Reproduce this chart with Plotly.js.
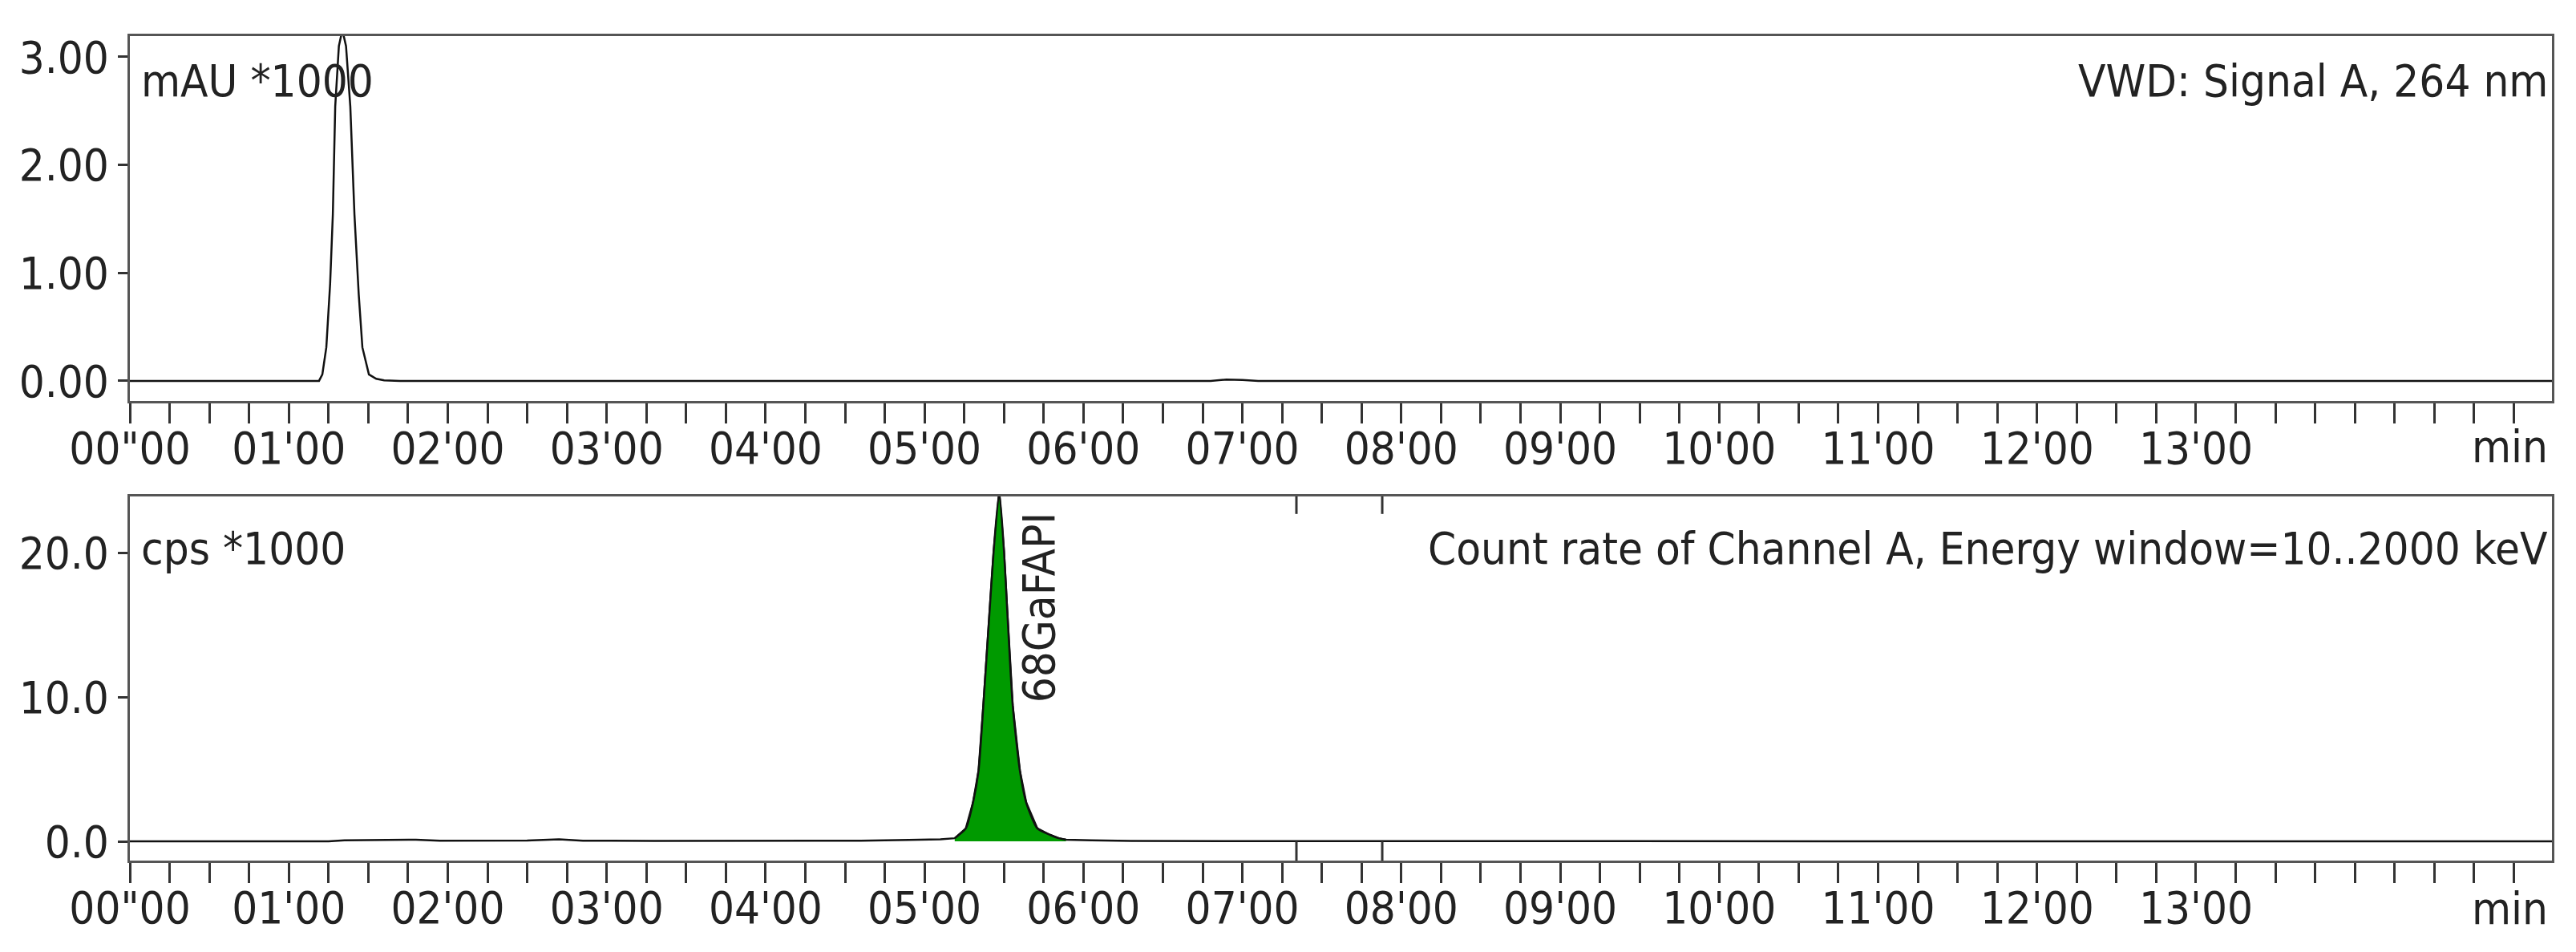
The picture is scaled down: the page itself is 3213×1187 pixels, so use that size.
<!DOCTYPE html>
<html>
<head>
<meta charset="utf-8">
<script src="https://cdn.plot.ly/plotly-3.0.1.min.js"></script>
<style>
  html, body { margin: 0; padding: 0; background: #fff; }
  #chart { width: 3213px; height: 1187px; }
</style>
</head>
<body>
<div id="chart"></div>
<script>
// UV trace (VWD, 264 nm), time in minutes, signal in mAU*1000
const uvTime = [0, 1.19, 1.211, 1.236, 1.26, 1.277, 1.292, 1.315, 1.337, 1.36, 1.387, 1.413, 1.44, 1.463, 1.504, 1.55, 1.60, 1.70, 6.80, 6.90, 7.00, 7.10, 15.24];
const uvSignal = [0, 0, 0.06, 0.31, 0.90, 1.54, 2.54, 3.10, 3.25, 3.10, 2.54, 1.54, 0.80, 0.31, 0.06, 0.02, 0.005, 0, 0, 0.012, 0.008, 0, 0];

// radio trace (count rate), cps*1000
const radTime = [0, 1.25, 1.35, 1.6, 1.8, 1.95, 2.5, 2.7, 2.85, 3.3, 4.6, 4.9, 5.1, 5.19, 5.26, 5.305, 5.34, 5.37, 5.41, 5.435, 5.47, 5.50, 5.52, 5.555, 5.60, 5.64, 5.71, 5.79, 5.845, 5.89, 6.05, 6.3, 7.0, 15.24];
const radRate = [0, 0, 0.08, 0.1, 0.12, 0.05, 0.06, 0.15, 0.05, 0.04, 0.05, 0.1, 0.15, 0.22, 0.9, 2.68, 4.9, 9.4, 16.07, 20.1, 24.2, 20.1, 16.07, 9.4, 4.9, 2.68, 0.9, 0.45, 0.22, 0.12, 0.08, 0.04, 0.02, 0];

// integrated peak
const peakName = '68GaFAPI';
const peakStart = 5.18;
const peakEnd = 5.90;
const peakLabelTime = 5.72;
const peakLabelLevel = 16.2;

// event marks on the radio panel
const eventTimes = [7.34, 7.88];

const minuteLabels = ['00"00', "01'00", "02'00", "03'00", "04'00", "05'00", "06'00",
  "07'00", "08'00", "09'00", "10'00", "11'00", "12'00", "13'00"];
const uvTicks = [0, 1, 2, 3];
const radTicks = [0, 10, 20];

const FONT = '"DejaVu Sans Condensed", "DejaVu Sans", sans-serif';
const FS = 56;

// quarter-minute ticks, labels only on whole minutes
let tickVals = [], tickText = [];
for (let i = 0; i <= 60; i++) {
  let t = i / 4;
  tickVals.push(t);
  tickText.push(i % 4 === 0 && minuteLabels[t] !== undefined ? minuteLabels[t] : '');
}

let peakX = [], peakY = [];
radTime.forEach((t, i) => {
  if (t >= peakStart && t <= peakEnd) { peakX.push(t); peakY.push(radRate[i]); }
});

let uvLine = {
  x: uvTime, y: uvSignal, xaxis: 'x', yaxis: 'y',
  mode: 'lines', line: {color: '#111', width: 2.5}, hoverinfo: 'skip'
};
let radLine = {
  x: radTime, y: radRate, xaxis: 'x2', yaxis: 'y2',
  mode: 'lines', line: {color: '#111', width: 2.5}, hoverinfo: 'skip'
};
let peakFill = {
  x: peakX, y: peakY, xaxis: 'x2', yaxis: 'y2',
  mode: 'lines', fill: 'tozeroy', fillcolor: '#009a00',
  line: {color: '#111', width: 2.5, shape: 'spline', smoothing: 0.6}, hoverinfo: 'skip'
};

function xAxis(anchor) {
  return {
    anchor: anchor, domain: [0, 1], range: [0, 15.24],
    tickmode: 'array', tickvals: tickVals, ticktext: tickText,
    ticks: 'outside', ticklen: 25, tickwidth: 3, tickcolor: '#333',
    ticklabelstandoff: -17,
    showline: true, mirror: true, linecolor: '#555', linewidth: 3,
    showgrid: false, zeroline: false,
    tickfont: {family: FONT, size: FS, color: '#222'}
  };
}
function yAxis(anchor, dom, rng, vals, fmt) {
  return {
    anchor: anchor, domain: dom, range: rng,
    tickmode: 'array', tickvals: vals, tickformat: fmt,
    ticks: 'outside', ticklen: 12, tickwidth: 3, tickcolor: '#333',
    showline: true, mirror: true, linecolor: '#555', linewidth: 3,
    showgrid: false, zeroline: false,
    tickfont: {family: FONT, size: FS, color: '#222'}
  };
}

let annFont = {family: FONT, size: FS, color: '#222'};
let annotations = [
  {xref: 'x domain', yref: 'y domain', x: 0.004, y: 0.877, xanchor: 'left', yanchor: 'middle', text: 'mAU *1000', showarrow: false, font: annFont},
  {xref: 'x domain', yref: 'y domain', x: 0.999, y: 0.877, xanchor: 'right', yanchor: 'middle', text: 'VWD: Signal A, 264 nm', showarrow: false, font: annFont},
  {xref: 'x domain', yref: 'y domain', x: 0.999, y: -0.125, xanchor: 'right', yanchor: 'middle', text: 'min', showarrow: false, font: annFont},
  {xref: 'x2 domain', yref: 'y2 domain', x: 0.004, y: 0.857, xanchor: 'left', yanchor: 'middle', text: 'cps *1000', showarrow: false, font: annFont},
  {xref: 'x2 domain', yref: 'y2 domain', x: 0.999, y: 0.857, xanchor: 'right', yanchor: 'middle', text: 'Count rate of Channel A, Energy window=10..2000 keV', showarrow: false, font: annFont},
  {xref: 'x2 domain', yref: 'y2 domain', x: 0.999, y: -0.132, xanchor: 'right', yanchor: 'middle', text: 'min', showarrow: false, font: annFont},
  {xref: 'x2', yref: 'y2', x: peakLabelTime, y: peakLabelLevel, xanchor: 'center', yanchor: 'middle', textangle: -90, text: peakName, showarrow: false, font: annFont}
];

let shapes = [];
eventTimes.forEach(t => {
  shapes.push({type: 'line', xref: 'x2', yref: 'y2 domain', x0: t, x1: t, y0: 1, y1: 0.952, line: {color: '#333', width: 3}});
  shapes.push({type: 'line', xref: 'x2', yref: 'y2 domain', x0: t, x1: t, y0: 0, y1: 0.053, line: {color: '#333', width: 3}});
});

var layout = {
  width: 3213, height: 1187,
  margin: {l: 162, r: 30, t: 0, b: 0},
  paper_bgcolor: '#fff', plot_bgcolor: '#fff',
  showlegend: false,
  xaxis: xAxis('y'),
  yaxis: yAxis('x', [0.5788, 0.9621], [-0.186, 3.193], uvTicks, '.2f'),
  xaxis2: xAxis('y2'),
  yaxis2: yAxis('x2', [0.0960, 0.4785], [-1.33, 23.89], radTicks, '.1f'),
  annotations: annotations,
  shapes: shapes
};

Plotly.newPlot('chart', [uvLine, radLine, peakFill], layout, {staticPlot: true});
</script>
</body>
</html>
